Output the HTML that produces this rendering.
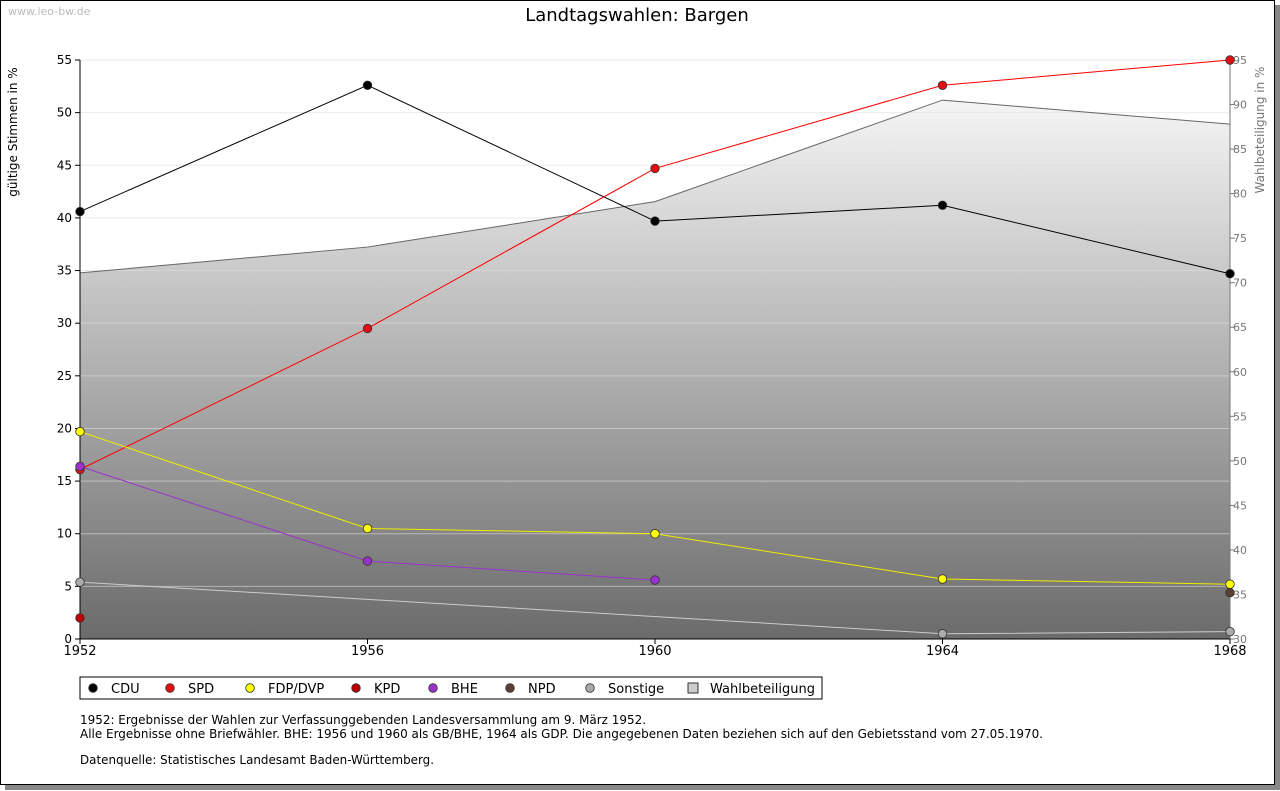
<!DOCTYPE html>
<html><head><meta charset="utf-8"><style>
body{margin:0;width:1280px;height:791px;background:#fff;overflow:hidden;font-family:"DejaVu Sans","Liberation Sans",sans-serif}
#frame{position:absolute;left:0;top:0;width:1273px;height:783px;border:1px solid #000;background:#fff;box-shadow:5px 5px 0 #888}
</style></head><body>
<div id="frame"></div>
<svg id="c" width="1280" height="791" style="position:absolute;left:0;top:0" font-family="DejaVu Sans, Liberation Sans, sans-serif">
<defs><linearGradient id="g" x1="0" y1="60" x2="0" y2="639" gradientUnits="userSpaceOnUse"><stop offset="0" stop-color="#ffffff"/><stop offset="1" stop-color="#6b6b6b"/></linearGradient></defs>
<text x="8" y="15" font-size="11" fill="#bbb">www.leo-bw.de</text>
<text x="637" y="21" font-size="18" text-anchor="middle">Landtagswahlen: Bargen</text>
<text transform="translate(17,132) rotate(-90)" font-size="12" text-anchor="middle">gültige Stimmen in %</text>
<text transform="translate(1264,130) rotate(-90)" font-size="12" fill="#777" text-anchor="middle">Wahlbeteiligung in %</text>
<g id="plot"></g>
<g>
<rect x="80" y="677" width="742" height="22" fill="#fff" stroke="#000"/>
<g id="leg"></g></g>
<g font-size="12">
<text x="80" y="724" textLength="566" lengthAdjust="spacingAndGlyphs">1952: Ergebnisse der Wahlen zur Verfassunggebenden Landesversammlung am 9. März 1952.</text>
<text x="80" y="738" textLength="963" lengthAdjust="spacingAndGlyphs">Alle Ergebnisse ohne Briefwähler. BHE: 1956 und 1960 als GB/BHE, 1964 als GDP. Die angegebenen Daten beziehen sich auf den Gebietsstand vom 27.05.1970.</text>
<text x="80" y="764" textLength="354" lengthAdjust="spacingAndGlyphs">Datenquelle: Statistisches Landesamt Baden-Württemberg.</text>
</g>
</svg>
<script>
const years=[1952,1956,1960,1964,1968];
const yTicks=[0,5,10,15,20,25,30,35,40,45,50,55];
const y2Ticks=[30,35,40,45,50,55,60,65,70,75,80,85,90,95];
const turnout=[71.1,74.0,79.1,90.5,87.8];
const cdu=[40.6,52.6,39.7,41.2,34.7];
const spd=[16.1,29.5,44.7,52.6,55.0];
const fdp=[19.7,10.5,10.0,5.7,5.2];
const kpd=[2.0,null,null,null,null];
const bhe=[16.4,7.4,5.6,null,null];
const npd=[null,null,null,null,4.4];
const sonst=[5.4,null,null,0.5,0.7];
const NS='http://www.w3.org/2000/svg';
const L=80,R=1230,T=60,B=639;
const x=i=>L+(years[i]-years[0])/(years[years.length-1]-years[0])*(R-L);
const y=v=>B-v/55*(B-T);
const y2=v=>B-(v-30)/65*(B-T);
const plot=document.getElementById('plot');
function mk(tag,a,p){const e=document.createElementNS(NS,tag);for(const k in a)e.setAttribute(k,a[k]);(p||plot).appendChild(e);return e;}
let d='M'+x(0)+','+B;turnout.forEach((v,i)=>d+=' L'+x(i)+','+y2(v));d+=' L'+x(4)+','+B+'Z';
let a=mk('path',{d:d,fill:'url(#g)'});


yTicks.forEach(t=>{let g=mk('line',{x1:L,x2:R,y1:y(t),y2:y(t),stroke:'#ddd','stroke-width':1,'stroke-opacity':0.6});


mk('line',{x1:L-5,x2:L,y1:y(t),y2:y(t),stroke:'#000'});
let tx=mk('text',{x:L-8,y:y(t)+4,'font-size':12,'text-anchor':'end'});tx.textContent=t;

});
mk('path',{d:'M'+x(0)+','+y2(turnout[0])+turnout.map((v,i)=>' L'+x(i)+','+y2(v)).join(''),fill:'none',stroke:'#666'});
y2Ticks.forEach(t=>{mk('line',{x1:R,x2:R+5,y1:y2(t),y2:y2(t),stroke:'#777'});
let tx=mk('text',{x:R+3,y:y2(t)+4,'font-size':11,fill:'#777'});tx.textContent=t;

});
mk('line',{x1:L,x2:L,y1:T,y2:B,stroke:'#000'});
mk('line',{x1:R,x2:R,y1:T,y2:B,stroke:'#777'});
mk('line',{x1:L,x2:R,y1:B,y2:B,stroke:'#000'});
years.forEach((yr,i)=>{mk('line',{x1:x(i),x2:x(i),y1:B,y2:B+5,stroke:'#000'});
let tx=mk('text',{x:x(i),y:B+16,'font-size':13,'text-anchor':'middle'});tx.textContent=yr;

});
const series=[['cdu',cdu,'#000','#000','CDU'],['spd',spd,'#f00','#e01010','SPD'],['fdp',fdp,'#ee0','#ff0','FDP/DVP'],['kpd',kpd,'#c00','#c00000','KPD'],['bhe',bhe,'#9933cc','#9933cc','BHE'],['npd',npd,'#5a4030','#5a4030','NPD'],['sonst',sonst,'#ccc','#aaa','Sonstige']];
const dot=(cx,cy,f,p)=>mk('circle',{cx:cx,cy:cy,r:4.3,fill:f,stroke:'#333','stroke-width':0.8},p);
series.forEach(s=>{const pts=[];s[1].forEach((v,i)=>{if(v!==null)pts.push([x(i),y(v)]);});
if(pts.length>1){let l=mk('path',{d:'M'+pts.map(p=>p.join(',')).join(' L'),fill:'none',stroke:s[2],'stroke-width':1});

}
pts.forEach(p=>{let m=dot(p[0],p[1],s[3]);

});});
const leg=document.getElementById('leg');
const lx=[93,170,250,356,433,510,590];
series.forEach((s,i)=>{dot(lx[i],688,s[3],leg);
const t=mk('text',{x:lx[i]+18,y:693,'font-size':13},leg);t.textContent=s[4];

});
mk('rect',{x:688,y:683,width:10,height:10,fill:'#ccc',stroke:'#333'},leg);
const tw=mk('text',{x:710,y:693,'font-size':13},leg);tw.textContent='Wahlbeteiligung';


</script>
</body></html>
